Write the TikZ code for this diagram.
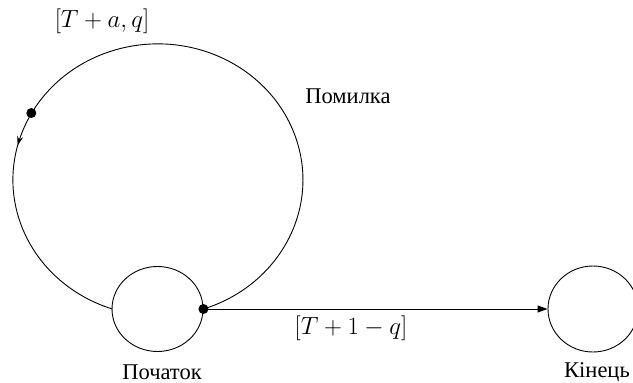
\documentclass[tikz,border=0pt]{standalone}
\usepackage{fontspec}
\setmainfont{Liberation Serif}
\usetikzlibrary{shapes.geometric,arrows.meta,decorations.markings,calc}
\begin{document}
\begin{tikzpicture}[x=1pt,y=-1pt,
  line width=0.9pt,
  state/.style={draw,ellipse,inner sep=0pt},
  dotnode/.style={circle,fill=black,inner sep=0pt,minimum size=10pt},
  lbl/.style={inner sep=0pt,font=\fontsize{22.5}{26}\selectfont},
  mlbl/.style={inner sep=0pt,font=\fontsize{24}{28}\selectfont},
  tip/.style={-{Triangle[length=10pt,width=7pt]}}]
\useasboundingbox (0,0) rectangle (633,383);
\node[state,minimum width=91pt,minimum height=85pt] (start) at (157.5,309) {};
\node[state,minimum width=90pt,minimum height=86pt] (end) at (593,309) {};
\coordinate (lc) at (157.5,180);
\draw[postaction={decorate},decoration={markings,mark=at position 0.735 with {\arrow{Stealth[length=9pt,width=6pt]}}}]
  (start.east) arc[start angle=71.7,end angle=-251.7,x radius=145,y radius=136];
\draw[tip] (start.east) -- (end.west);
\node[dotnode] (d1) at (start.east) {};
\node[dotnode] (d2) at ($(lc)+(-150.5:145 and 136)$) {};
\node[mlbl] (l1) at (102,21) {$[T+a,q]$};
\node[lbl] (l2) at (348,96) {Помилка};
\node[mlbl] (l3) at (351,328) {$[T+1-q]$};
\node[lbl] (l4) at (162,372) {Початок};
\node[lbl] (l5) at (597,372) {Кінець};
\end{tikzpicture}
\end{document}
